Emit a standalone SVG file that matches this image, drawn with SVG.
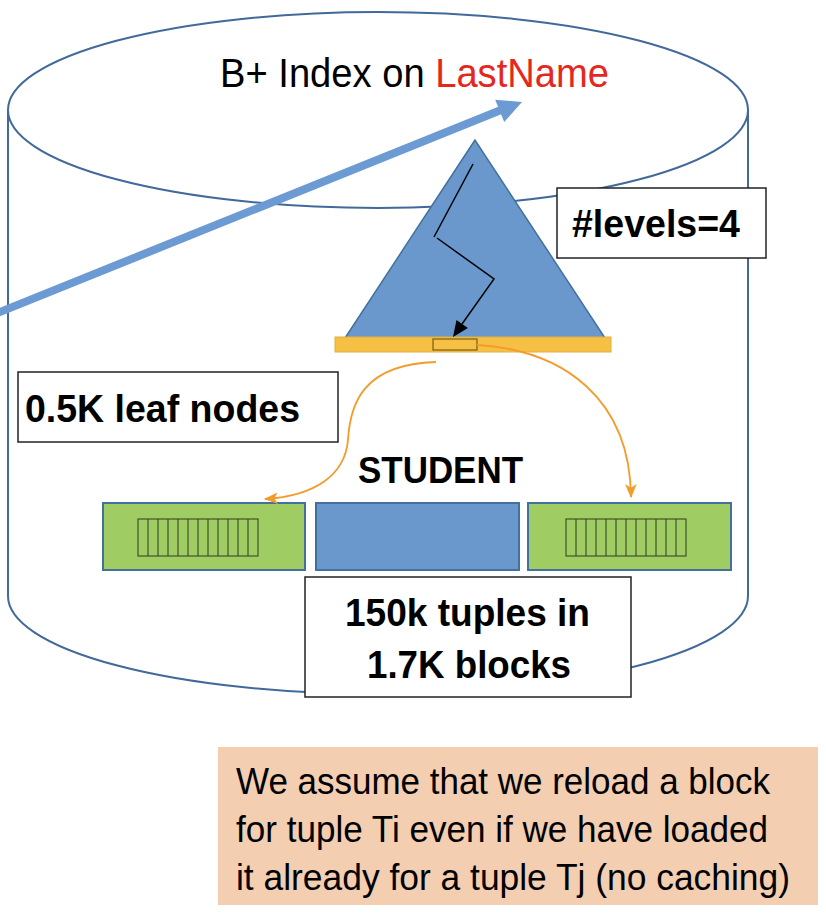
<svg xmlns="http://www.w3.org/2000/svg" width="826" height="916" viewBox="0 0 826 916">
<defs>
<style>
.cyl{fill:none;stroke:#41699a;stroke-width:2}
.lbl{fill:#fff;stroke:#222;stroke-width:1.5}
.bold{font-family:"Liberation Sans",Arial,sans-serif;font-weight:bold;fill:#000}
.reg{font-family:"Liberation Sans",Arial,sans-serif;fill:#000}
.blk{stroke:#41719c;stroke-width:2}
.hatch{fill:none;stroke:#2c3a1c;stroke-width:1}
.or{fill:none;stroke:#f39b2b;stroke-width:1.8}
</style>
<marker id="oa" markerUnits="userSpaceOnUse" markerWidth="14" markerHeight="14" viewBox="0 0 12 10" refX="11" refY="5" orient="auto">
<path d="M0,0 L12,5 L0,10 L3,5 z" fill="#f39b2b"/>
</marker>
</defs>
<rect width="826" height="916" fill="#fff"/>
<g id="cylinder">
<path class="cyl" d="M8 110 L8 596 A370 98 0 0 0 748 596 L748 110"/>
<ellipse class="cyl" cx="378" cy="110" rx="370" ry="98" fill="#fff"/>
<text class="reg" x="220" y="87" font-size="40" textLength="389" lengthAdjust="spacingAndGlyphs">B+ Index on <tspan fill="#e5281d">LastName</tspan></text>
</g>
<g id="connectors">
<line x1="-5" y1="314" x2="501" y2="110" stroke="#6b9bd2" stroke-width="8"/>
<polygon points="522,102 504.2,122.1 495.2,99.8" fill="#6b9bd2"/>
</g>
<g id="tree">
<polygon points="475,140 345,338 605,338" fill="#6a98cd" stroke="#41719c" stroke-width="1.5"/>
<rect x="335" y="337" width="276" height="15" fill="#f5c043" stroke="#e0b040" stroke-width="1"/>
<rect x="433" y="339" width="44" height="11" fill="#f5c043" stroke="#7a5c10" stroke-width="1.2"/>
<polyline points="473,164 434,237" fill="none" stroke="#000" stroke-width="1.5"/>
<polyline points="437,238 494,279 462,324" fill="none" stroke="#000" stroke-width="1.5"/>
<polygon points="453,337 467.9,327.9 456.5,319.9" fill="#000"/>
</g>
<g id="levels">
<rect class="lbl" x="557" y="188" width="209" height="70"/>
<text class="bold" x="572" y="237" font-size="39" textLength="168" lengthAdjust="spacingAndGlyphs">#levels=4</text>
</g>
<g id="leaf">
<rect class="lbl" x="18" y="372" width="320" height="70"/>
<text class="bold" x="25" y="422" font-size="39" textLength="275" lengthAdjust="spacingAndGlyphs">0.5K leaf nodes</text>
</g>
<g id="student">
<text class="bold" x="358" y="483" font-size="37" textLength="165" lengthAdjust="spacingAndGlyphs">STUDENT</text>
<rect class="blk" x="103" y="503" width="202" height="67" fill="#a0cd63"/>
<rect class="blk" x="316" y="503" width="203" height="67" fill="#6a98cd"/>
<rect class="blk" x="528" y="503" width="203" height="67" fill="#a0cd63"/>
<g class="hatch">
<rect x="138" y="519" width="120" height="37"/>
<path d="M148 519V556M158 519V556M168 519V556M178 519V556M188 519V556M198 519V556M208 519V556M218 519V556M228 519V556M238 519V556M248 519V556"/>
<rect x="566" y="519" width="120" height="37"/>
<path d="M576 519V556M586 519V556M596 519V556M606 519V556M616 519V556M626 519V556M636 519V556M646 519V556M656 519V556M666 519V556M676 519V556"/>
</g>
</g>
<g id="orange-connectors">
<path class="or" d="M436 362 C362 364 350 405 348 440 C345 475 315 496 265 499" marker-end="url(#oa)"/>
<path class="or" d="M477 345 C565 350 630 400 631 497" marker-end="url(#oa)"/>
</g>
<g id="tuples">
<rect class="lbl" x="305" y="577" width="326" height="120"/>
<text class="bold" x="345" y="626" font-size="39" textLength="245" lengthAdjust="spacingAndGlyphs">150k tuples in</text>
<text class="bold" x="367" y="678" font-size="39" textLength="204" lengthAdjust="spacingAndGlyphs">1.7K blocks</text>
</g>
<g id="note">
<rect x="218" y="747" width="600" height="158" fill="#f3ceb1"/>
<text class="reg" font-size="36"><tspan x="236" y="794" textLength="534" lengthAdjust="spacingAndGlyphs">We assume that we reload a block</tspan></text>
<text class="reg" font-size="36"><tspan x="236" y="842" textLength="532" lengthAdjust="spacingAndGlyphs">for tuple Ti even if we have loaded</tspan></text>
<text class="reg" font-size="36"><tspan x="236" y="890" textLength="554" lengthAdjust="spacingAndGlyphs">it already for a tuple Tj (no caching)</tspan></text>
</g>
</svg>
